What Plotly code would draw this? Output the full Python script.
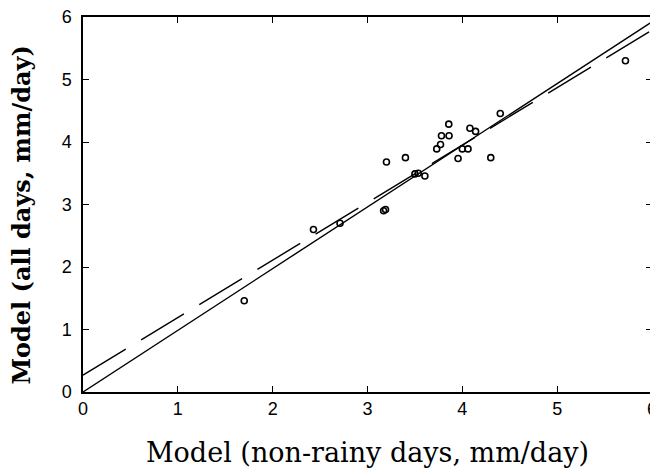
import plotly.graph_objects as go

# Scatter data: model non-rainy days (x) vs model all days (y), mm/day
x_nonrainy = [1.70, 2.43, 2.71, 3.17, 3.19, 3.20, 3.40, 3.50, 3.535, 3.605,
              3.73, 3.77, 3.78, 3.857, 3.86, 3.955, 4.00, 4.06, 4.08, 4.14,
              4.30, 4.40, 5.72]
y_alldays = [1.46, 2.60, 2.70, 2.90, 2.92, 3.68, 3.75, 3.49, 3.50, 3.455,
             3.89, 3.96, 4.10, 4.286, 4.10, 3.735, 3.89, 3.89, 4.22, 4.17,
             3.75, 4.455, 5.30]

# Fit lines: [solid, dashed]
line_x = [0, 6]
line_intercepts = [0.0, 0.27]
line_slopes = [0.987, 0.92]
line_dashes = ["solid", "50px,18px"]

x_ticks = [0, 1, 2, 3, 4, 5, 6]
y_ticks = [0, 1, 2, 3, 4, 5, 6]

fig = go.Figure()

for b0, b1, dash in zip(line_intercepts, line_slopes, line_dashes):
    fig.add_trace(go.Scatter(
        x=line_x, y=[b0 + b1 * xx for xx in line_x],
        mode="lines", line=dict(color="black", width=1.4, dash=dash),
        showlegend=False, hoverinfo="skip", cliponaxis=False))

fig.add_trace(go.Scatter(
    x=x_nonrainy, y=y_alldays, mode="markers",
    marker=dict(symbol="circle-open", size=6, color="black",
                line=dict(width=1.6, color="black")),
    showlegend=False))

axis_common = dict(
    range=[0, 6], showgrid=False, zeroline=False, automargin=False,
    showline=True, linecolor="black", linewidth=1.5, mirror="ticks",
    ticks="inside", ticklen=6, tickwidth=1.2, tickcolor="black",
    ticklabeloverflow="allow",
    tickfont=dict(family="Liberation Sans, Arial, sans-serif", size=18, color="black"),
)

fig.update_xaxes(**axis_common, tickvals=x_ticks,
                 title=dict(text="Model (non-rainy days, mm/day)",
                            font=dict(family="DejaVu Serif, serif",
                                      size=27, color="black"),
                            standoff=25))
fig.update_yaxes(**axis_common, tickvals=y_ticks, ticklabelstandoff=6)

fig.add_annotation(
    text="<b>Model (all days, mm/day)</b>", textangle=-90,
    xref="paper", yref="paper", x=0, y=0.5,
    xanchor="center", yanchor="middle", xshift=-62, yshift=-11,
    showarrow=False,
    font=dict(family="DejaVu Serif, serif", size=24, color="black"))

# page body adds an 8px offset, so margins are reduced accordingly
fig.update_layout(
    width=650, height=462,
    margin=dict(l=75, r=6, t=9, b=78),
    plot_bgcolor="white", paper_bgcolor="white",
)

fig.write_html("out.html")
